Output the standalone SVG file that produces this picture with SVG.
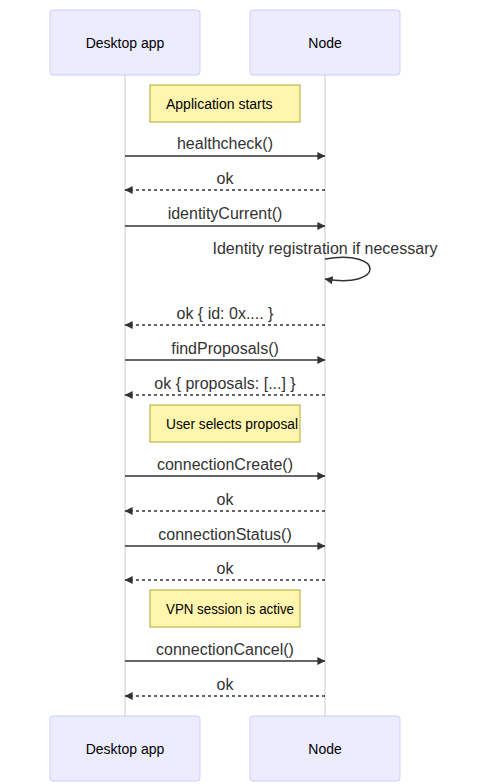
<svg xmlns="http://www.w3.org/2000/svg" width="491" height="784" viewBox="0 0 491 784">
<style>
.actor{fill:#ececff;stroke:#ccccff;stroke-width:1}
.atext{font-family:"Liberation Sans",Arial,sans-serif;font-size:14px;fill:#000;text-anchor:middle}
.life{stroke:#cccccc;stroke-width:1}
.note{fill:#fff5ad;stroke:#aaaa33;stroke-width:1}
.ntext{font-family:"Liberation Sans",Arial,sans-serif;font-size:14px;fill:#000}
.msg{stroke:#333;stroke-width:1.5;fill:none;marker-end:url(#arrow)}
.dash{stroke-dasharray:3,3}
.mtext{font-family:"Liberation Sans",Arial,sans-serif;font-size:16px;fill:#333;text-anchor:middle}
</style>
<defs>
<marker id="arrow" viewBox="0 0 10 10" refX="9.5" refY="5" markerUnits="userSpaceOnUse" markerWidth="9" markerHeight="8" orient="auto">
<path d="M0,0 L10,5 L0,10 z" fill="#333"/>
</marker>
</defs>
<g id="lifelines">
<line class="life" x1="125" y1="75" x2="125" y2="716"/>
<line class="life" x1="325" y1="75" x2="325" y2="716"/>
</g>
<g id="actor-desktop-top"><rect class="actor" x="50" y="10" width="150" height="65" rx="3"/><text class="atext" x="125" y="48">Desktop app</text></g>
<g id="actor-node-top"><rect class="actor" x="250" y="10" width="150" height="65" rx="3"/><text class="atext" x="325" y="48">Node</text></g>
<g id="actor-desktop-bottom"><rect class="actor" x="50" y="716" width="150" height="65" rx="3"/><text class="atext" x="125" y="754">Desktop app</text></g>
<g id="actor-node-bottom"><rect class="actor" x="250" y="716" width="150" height="65" rx="3"/><text class="atext" x="325" y="754">Node</text></g>
<g id="note-app-starts"><rect class="note" x="150" y="85" width="150" height="37"/><text class="ntext" x="166" y="108.5">Application starts</text></g>
<g id="note-user-selects"><rect class="note" x="150" y="405" width="150" height="37"/><text class="ntext" x="166" y="428.5" textLength="132" lengthAdjust="spacingAndGlyphs">User selects proposal</text></g>
<g id="note-vpn"><rect class="note" x="150" y="590" width="150" height="37"/><text class="ntext" x="166" y="613.5" textLength="128" lengthAdjust="spacingAndGlyphs">VPN session is active</text></g>
<g id="connectors">
<line class="msg" x1="125" y1="156" x2="325" y2="156"/>
<text class="mtext" x="225" y="149">healthcheck()</text>
<line class="msg dash" x1="325" y1="190" x2="125" y2="190"/>
<text class="mtext" x="225" y="183.5">ok</text>
<line class="msg" x1="125" y1="226" x2="325" y2="226"/>
<text class="mtext" x="225" y="219">identityCurrent()</text>
<path class="msg" d="M325,259 C385,249 385,289 325,279"/>
<text class="mtext" x="325" y="253.5">Identity registration if necessary</text>
<line class="msg dash" x1="325" y1="325" x2="125" y2="325"/>
<text class="mtext" x="225" y="318.5">ok { id: 0x.... }</text>
<line class="msg" x1="125" y1="360" x2="325" y2="360"/>
<text class="mtext" x="225" y="353.5">findProposals()</text>
<line class="msg dash" x1="325" y1="395" x2="125" y2="395"/>
<text class="mtext" x="225" y="388.5">ok { proposals: [...] }</text>
<line class="msg" x1="125" y1="476" x2="325" y2="476"/>
<text class="mtext" x="225" y="469.5">connectionCreate()</text>
<line class="msg dash" x1="325" y1="511" x2="125" y2="511"/>
<text class="mtext" x="225" y="504.5">ok</text>
<line class="msg" x1="125" y1="546" x2="325" y2="546"/>
<text class="mtext" x="225" y="539.5">connectionStatus()</text>
<line class="msg dash" x1="325" y1="580" x2="125" y2="580"/>
<text class="mtext" x="225" y="573.5">ok</text>
<line class="msg" x1="125" y1="661" x2="325" y2="661"/>
<text class="mtext" x="225" y="654.5">connectionCancel()</text>
<line class="msg dash" x1="325" y1="696" x2="125" y2="696"/>
<text class="mtext" x="225" y="689.5">ok</text>
</g>
</svg>
